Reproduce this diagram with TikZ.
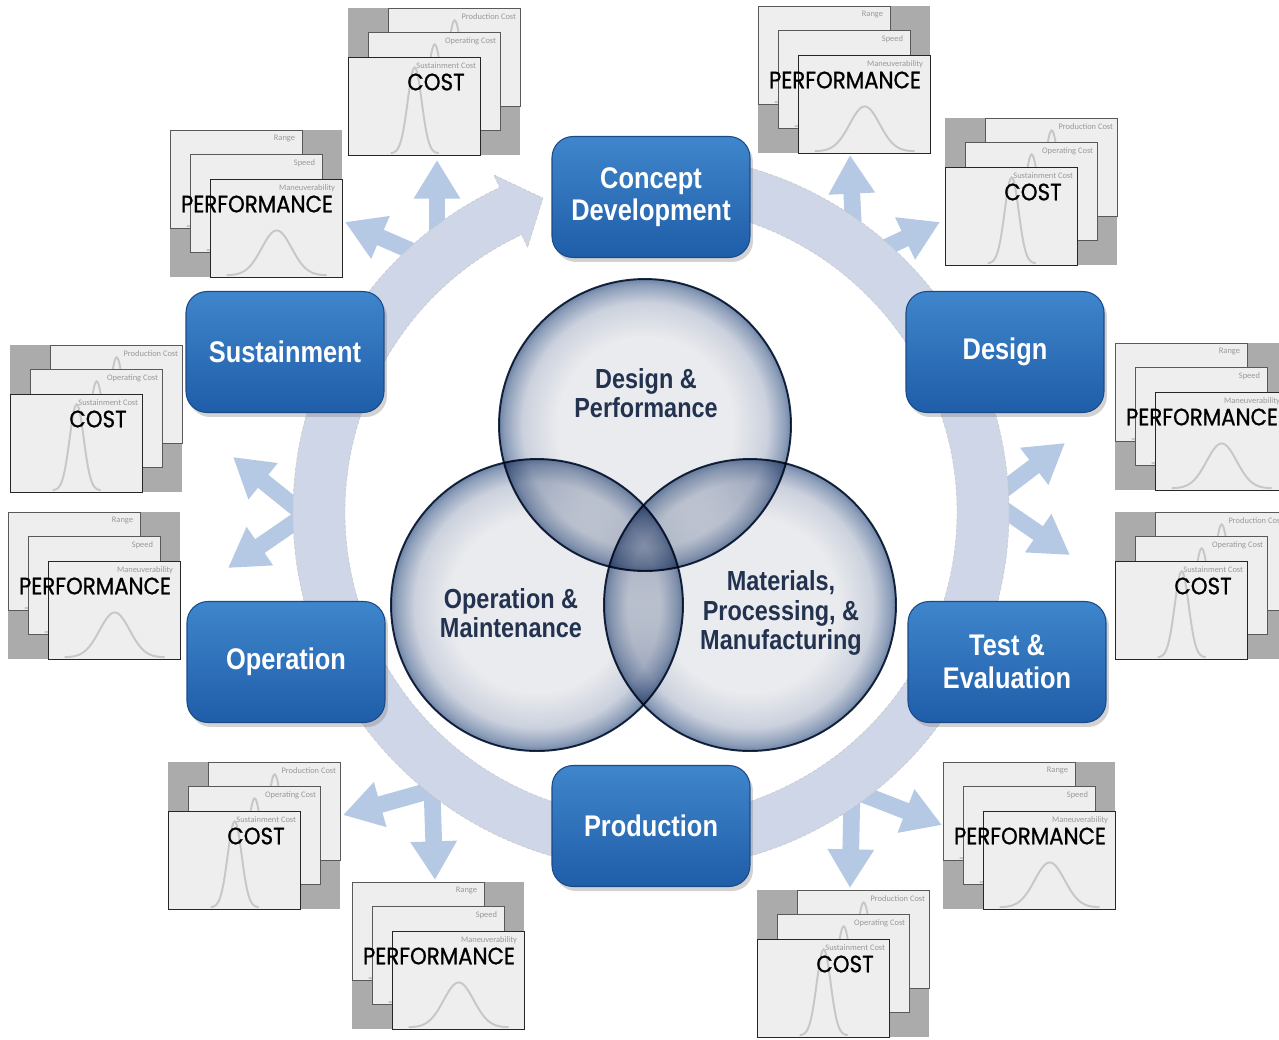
\documentclass[tikz,border=0pt]{standalone}
\usepackage{fontspec}
\setmainfont{Liberation Sans}
\newfontfamily\phasefont{Liberation Sans}[FakeStretch=0.85]
\newfontfamily\stackfont{Poppins}[FakeStretch=0.9,FakeBold=0.8]
\newfontfamily\labelfont{Carlito}
\usetikzlibrary{arrows.meta,shadows}

\definecolor{boxtop}{HTML}{3F86CC}
\definecolor{boxbot}{HTML}{1F5DA8}
\definecolor{boxedge}{HTML}{1A4A88}
\definecolor{ringfill}{HTML}{CED6E8}
\definecolor{spokeblue}{HTML}{B5C9E5}
\definecolor{cardfill}{HTML}{EEEEEE}
\definecolor{cardback}{HTML}{ABABAB}
\definecolor{vennin}{HTML}{EAEBEE}
\definecolor{vennmid}{HTML}{CBD1DD}
\definecolor{vennout}{HTML}{8E9FBA}
\definecolor{vennrim}{HTML}{6E84A6}
\definecolor{vennedge}{HTML}{1C2D48}
\definecolor{venntext}{HTML}{22324F}

\pgfdeclareradialshading{venn}{\pgfpointorigin}{color(0bp)=(vennin); color(15bp)=(vennin); color(21bp)=(vennmid); color(24bp)=(vennout); color(25bp)=(vennrim); color(50bp)=(vennrim)}

\tikzset{
  card/.style={draw=black!65, line width=0.8pt, fill=cardfill, minimum width=2.64cm, minimum height=1.96cm, inner sep=0pt},
  stackbg/.style={fill=cardback, minimum width=3.44cm, minimum height=2.94cm, inner sep=0pt},
  cardlabel/.style={font=\labelfont\fontsize{4.8}{5}\selectfont, text=black!40, inner sep=0pt},
  bigword/.style={font=\stackfont\fontsize{13.5}{14}\selectfont, inner sep=0pt},
  bell/.style={draw=black!22, line width=1.1pt},
  phase/.style={rounded corners=0.42cm, minimum width=3.96cm, minimum height=2.42cm, top color=boxtop, bottom color=boxbot, draw=boxedge, line width=0.6pt, text=white, align=center, font=\phasefont\bfseries\fontsize{17}{18.5}\selectfont, drop shadow={opacity=0.35, shadow xshift=0.6mm, shadow yshift=-0.9mm}},
  venn/.style={circle, minimum size=5.84cm, shading=venn, draw=vennedge, line width=1.1pt},
  venntext/.style={text=venntext, align=center, font=\phasefont\bfseries\fontsize{15.7}{16.6}\selectfont},
  ring/.style={fill=ringfill, draw=black!22, line width=0.3pt, dash pattern=on 2pt off 1pt},
  spoke/.style={draw=spokeblue, line width=9.5pt, -{Triangle[length=22pt,width=25pt]}},
}

\newcommand{\bell}[4]{\draw[bell,shift={(#1.south)}] plot[domain=-#4:#4,samples=41,smooth] (\x,{-3-#3*exp(-0.5*(\x/#2)^2)});}

\newcommand{\coststack}[3]{%
  \node[stackbg,anchor=north west] (#1bg) at (#2,#3) {};
  \node[card,anchor=north west] (#1a) at ({#2+40},#3) {};
  \bell{#1a}{7}{84}{24}
  \node[cardlabel,anchor=north east] (#1la) at ([shift={(-5,5)}]#1a.north east) {Production Cost};
  \node[card,anchor=north west] (#1b) at ({#2+20},{#3+24}) {};
  \bell{#1b}{7}{84}{24}
  \node[cardlabel,anchor=north east] (#1lb) at ([shift={(-5,5)}]#1b.north east) {Operating Cost};
  \node[card,draw=black!85,anchor=north west] (#1c) at (#2,{#3+49}) {};
  \bell{#1c}{7}{86}{24}
  \node[cardlabel,anchor=north east] (#1lc) at ([shift={(-5,5)}]#1c.north east) {Sustainment Cost};
  \node[bigword] (#1t) at ([shift={(88,25)}]#1c.north west) {COST};
}

\newcommand{\perfstack}[3]{%
  \node[stackbg,anchor=north west] (#1bg) at (#2,#3) {};
  \node[card,anchor=north west] (#1a) at (#2,#3) {};
  \bell{#1a}{15}{45}{50}
  \node[cardlabel,anchor=north east] (#1la) at ([shift={(-8,5)}]#1a.north east) {Range};
  \node[card,anchor=north west] (#1b) at ({#2+20},{#3+24}) {};
  \bell{#1b}{15}{45}{50}
  \node[cardlabel,anchor=north east] (#1lb) at ([shift={(-8,5)}]#1b.north east) {Speed};
  \node[card,draw=black!85,anchor=north west] (#1c) at ({#2+40},{#3+49}) {};
  \bell{#1c}{15}{45}{50}
  \node[cardlabel,anchor=north east] (#1lc) at ([shift={(-8,5)}]#1c.north east) {Maneuverability};
  \node[bigword] (#1t) at ([shift={(47,25)}]#1c.north west) {PERFORMANCE};
}

\begin{document}
\begin{tikzpicture}[x=0.02cm,y=-0.02cm]
\useasboundingbox[fill=white] (0,0) rectangle (1279,1039);

\foreach \nm/\px/\py in {c1/348/8, c2/945/118, c3/1115/512, c4/757/890, c5/168/762, c6/10/345}
  {\coststack{\nm}{\px}{\py}}
\foreach \nm/\px/\py in {p1/758/6, p2/1115/343, p3/943/762, p4/352/882, p5/8/512, p6/170/130}
  {\perfstack{\nm}{\px}{\py}}

\foreach \k/\bx/\by/\ax/\ay/\cx/\cy in {1/437/262/437/160/345/222, 2/855/262/850/155/940/222, 3/990/500/1065/443/1070/555, 4/852/790/942/825/850/888, 5/432/790/343/815/435/880, 6/305/515/233/457/228/568}{
  \coordinate (sp\k) at (\bx,\by);
  \coordinate (sp\k a) at (\ax,\ay);
  \coordinate (sp\k b) at (\cx,\cy);
  \draw[spoke] (sp\k) -- (sp\k a);
  \draw[spoke] (sp\k) -- (sp\k b);
}

\begin{scope}[shift={(651,512)}]
\draw[ring] (-85:358) arc[start angle=-85, end angle=245, radius=358] -- (245:372) -- (251:332) -- (245:292) -- (245:306) arc[start angle=245, end angle=-85, radius=306] -- cycle;
\end{scope}

\node[phase] (concept) at (651,197) {Concept\\Development};
\node[phase] (design) at (1005,352) {Design};
\node[phase] (test) at (1007,662) {Test \&\\Evaluation};
\node[phase] (prod) at (651,826) {Production};
\node[phase] (oper) at (286,662) {Operation};
\node[phase] (sust) at (285,352) {Sustainment};

\begin{scope}[blend mode=multiply]
\node[venn] (dp) at (645,425) {};
\node[venn] (om) at (537,605) {};
\node[venn] (mp) at (750,605) {};
\end{scope}
\node[venntext] (dpt) at (646,393) {Design \&\\Performance};
\node[venntext] (omt) at (511,613) {Operation \&\\Maintenance};
\node[venntext] (mpt) at (781,613) {Materials,\\Processing, \&\\Manufacturing};
\end{tikzpicture}
\end{document}
